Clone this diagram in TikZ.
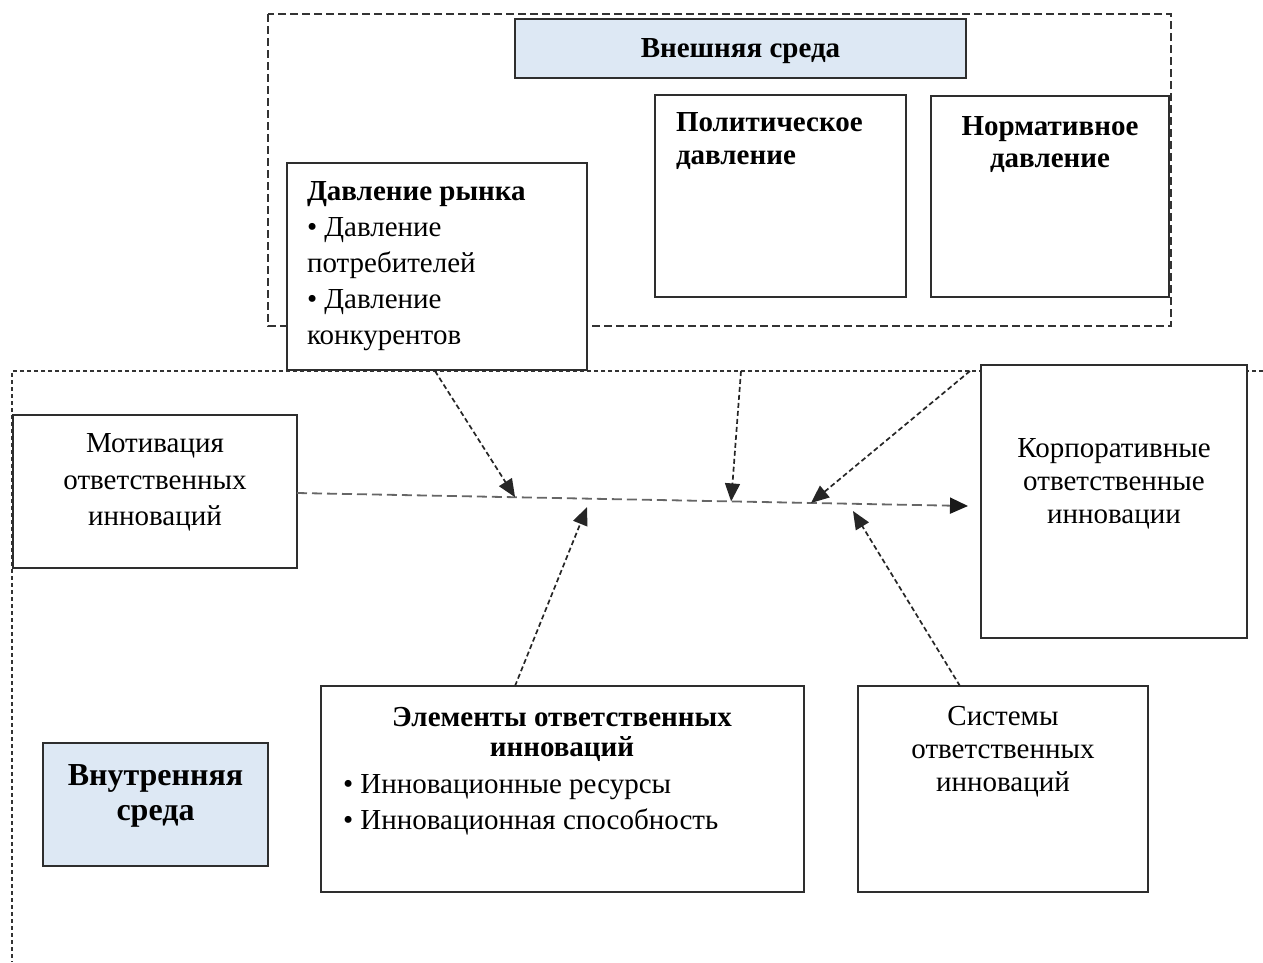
\documentclass[tikz,border=0pt]{standalone}
\usepackage{fontspec}
\setmainfont{Liberation Serif}
\usetikzlibrary{arrows.meta,calc}
\definecolor{envblue}{HTML}{DDE8F4}
\definecolor{boxline}{HTML}{2E2E2E}
\begin{document}
\begin{tikzpicture}[x=1pt,y=-1pt,
  box/.style={draw=boxline, line width=1.4pt, fill=white, inner sep=0pt, outer sep=0pt, anchor=north west},
  envbox/.style={box, fill=envblue},
  outerdash/.style={draw=black!80, line width=1.3pt, dash pattern=on 8pt off 4pt},
  innerdash/.style={draw=black!80, line width=1.2pt, dash pattern=on 4pt off 3pt},
  flow/.style={draw=black!85, line width=1.7pt, dash pattern=on 5pt off 3pt, -{Triangle[length=18pt,width=15pt]}},
  mainflow/.style={draw=black!60, line width=1.8pt, dash pattern=on 10pt off 5pt, -{Triangle[length=18pt,width=16pt,color=black!90,fill=black!90]}},
  txt/.style={inner sep=0pt, outer sep=0pt, font=\fontsize{29}{36}\selectfont},
  head/.style={inner sep=0pt, outer sep=0pt, font=\fontsize{29}{32}\selectfont\bfseries}]
\useasboundingbox (0,0) rectangle (1263,962);

% external environment frame and internal environment border
\draw[outerdash] (268,14) rectangle (1171,326);
\draw[innerdash] (1263,371) -- (12,371) -- (12,962);

% external environment
\node[envbox, minimum width=451pt, minimum height=59pt] (ext) at (515,19) {};
\node[head] (exttxt) at ($(ext.center)+(0,3)$) {Внешняя среда};

\node[box, minimum width=251pt, minimum height=202pt] (pol) at (655,95) {};
\node[head, anchor=north west, align=left, font=\fontsize{29}{33}\selectfont\bfseries] (poltxt) at (676,113) {Политическое\\давление};

\node[box, minimum width=238pt, minimum height=201pt] (norm) at (931,96) {};
\node[head, anchor=north, align=center] (normtxt) at (1050,117) {Нормативное\\давление};

\node[box, minimum width=300pt, minimum height=207pt] (market) at (287,163) {};
\node[txt, anchor=north west, align=left] (markettxt) at (307,182)
  {\textbf{Давление рынка}\\• Давление\\потребителей\\• Давление\\конкурентов};

% internal environment
\node[box, minimum width=284pt, minimum height=153pt] (motiv) at (13,415) {};
\node[txt, anchor=north, align=center, font=\fontsize{29}{36.5}\selectfont] (motivtxt) at (155,434) {Мотивация\\ответственных\\инноваций};

\node[box, minimum width=266pt, minimum height=273pt] (corp) at (981,365) {};
\node[txt, anchor=north, align=center, font=\fontsize{29}{33}\selectfont] (corptxt) at (1114,438)
  {Корпоративные\\ответственные\\инновации};

\node[box, minimum width=483pt, minimum height=206pt] (elem) at (321,686) {};
\node[head, anchor=north, align=center, font=\fontsize{29}{30}\selectfont\bfseries] (elemtxt) at (562,707)
  {Элементы ответственных\\инноваций};
\node[txt, anchor=north west, align=left, font=\fontsize{29}{36}\selectfont] (elemlist) at (343,774)
  {• Инновационные ресурсы\\• Инновационная способность};

\node[box, minimum width=290pt, minimum height=206pt] (sys) at (858,686) {};
\node[txt, anchor=north, align=center, font=\fontsize{29}{33}\selectfont] (systxt) at (1003,706)
  {Системы\\ответственных\\инноваций};

\node[envbox, minimum width=225pt, minimum height=123pt] (intr) at (43,743) {};
\node[head, anchor=north, align=center, font=\fontsize{32}{35}\selectfont\bfseries] (intrtxt) at (155.5,765)
  {Внутренняя\\среда};

% main axis and the factors acting on it
\coordinate (axA) at (297,493);
\coordinate (axB) at (968,506);
\draw[mainflow] (axA) -- (axB);

\coordinate (s1) at (435,371);
\coordinate (s2) at (741,371);
\coordinate (s3) at (970,371);
\coordinate (t1) at ($(axA)!0.325!(axB)$);
\coordinate (t2) at ($(axA)!0.647!(axB)$);
\coordinate (t3) at ($(axA)!0.766!(axB)$);
\draw[flow] (s1) -- (t1);
\draw[flow] (s2) -- (t2);
\draw[flow] (s3) -- (t3);

\coordinate (b1) at (515,686);
\coordinate (b2) at (960,686);
\coordinate (u1) at (587,507);
\coordinate (u2) at (853,511);
\draw[flow] (b1) -- (u1);
\draw[flow] (b2) -- (u2);
\end{tikzpicture}
\end{document}
